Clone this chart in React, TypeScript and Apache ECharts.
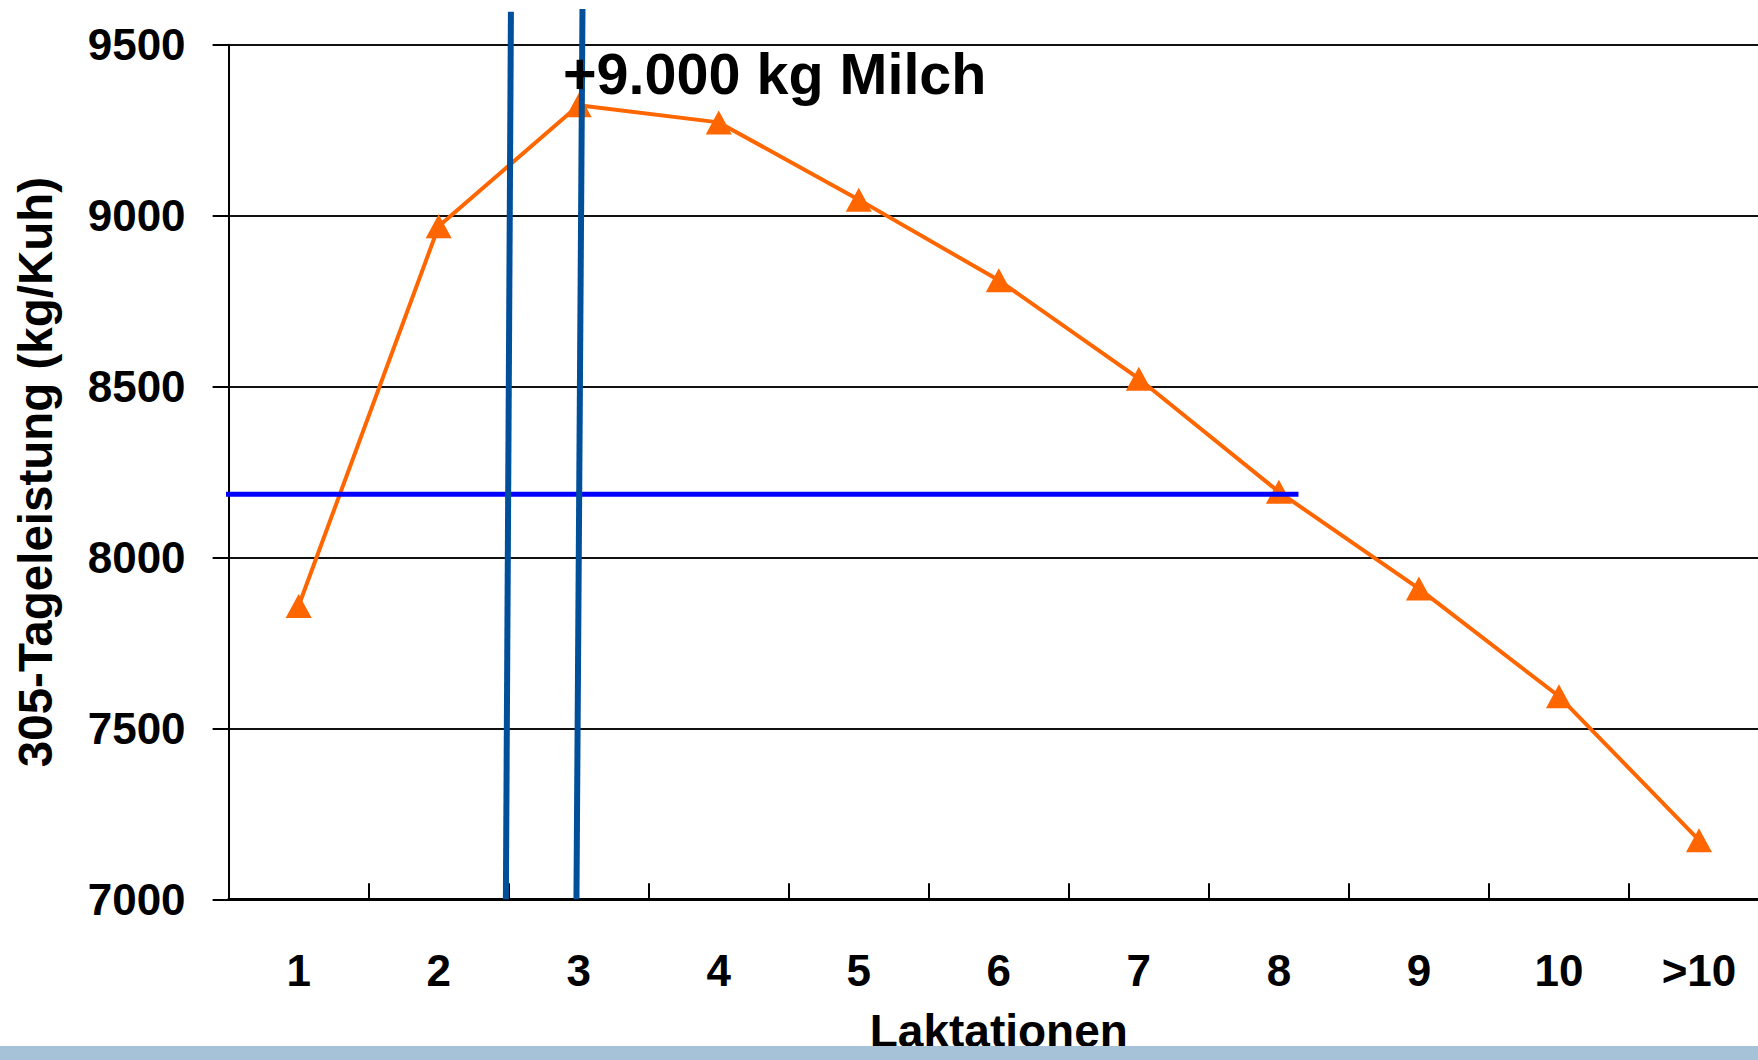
import React, { useEffect, useRef } from "react";
import * as echarts from "echarts";

// ---- data ----
const categories = ["1", "2", "3", "4", "5", "6", "7", "8", "9", "10", ">10"];
const milkYield = [7858, 8969, 9323, 9273, 9047, 8811, 8523, 8192, 7909, 7594, 7173];
const yMin = 7000;
const yMax = 9500;
const yInterval = 500;
// reference lines in axis units (x = category index, 0 = "1")
const herdLine = [
  [-0.54, 8185],
  [7.14, 8185],
];
const verticalLineA = [
  [1.516, 9597],
  [1.48, 7000],
];
const verticalLineB = [
  [2.027, 9605],
  [1.984, 7000],
];
const annotationText = "+9.000 kg Milch";
const xAxisName = "Laktationen";
const yAxisName = "305-Tageleistung (kg/Kuh)";

const FONT = "'Liberation Sans', Arial, sans-serif";

export default function App() {
  const ref = useRef<HTMLDivElement>(null);

  useEffect(() => {
    document.body.style.margin = "0";
    if (!ref.current) return;
    const chart = echarts.init(ref.current, null, { renderer: "svg" });
    const labelStyle = {
      fontSize: 44,
      fontWeight: "bold" as const,
      fontFamily: FONT,
      color: "#000",
    };
    chart.setOption({
      animation: false,
      backgroundColor: "#fff",
      grid: {
        left: 228.6,
        right: -11,
        top: 44.8,
        bottom: 160.7,
        containLabel: false,
        outerBoundsMode: "none",
      },
      xAxis: [
        {
          type: "category",
          data: categories,
          boundaryGap: true,
          axisLine: { show: true, onZero: false, lineStyle: { color: "#000", width: 3 } },
          axisTick: {
            show: true,
            inside: true,
            length: 16,
            interval: 0,
            lineStyle: { color: "#000", width: 2 },
          },
          axisLabel: { ...labelStyle, interval: 0, margin: 49 },
          splitLine: { show: false },
          name: xAxisName,
          nameLocation: "middle",
          nameGap: 109,
          nameTextStyle: { fontSize: 46, fontWeight: "bold", fontFamily: FONT, color: "#000" },
        },
        {
          type: "value",
          min: -0.5,
          max: 10.5,
          show: false,
          position: "bottom",
        },
      ],
      yAxis: {
        type: "value",
        min: yMin,
        max: yMax,
        interval: yInterval,
        axisLine: { show: true, onZero: false, lineStyle: { color: "#000", width: 2 } },
        axisTick: { show: true, length: 16, lineStyle: { color: "#000", width: 2 } },
        axisLabel: { ...labelStyle, margin: 43, formatter: (v: number) => String(v) },
        splitLine: { show: true, lineStyle: { color: "#111", width: 2 } },
        name: yAxisName,
        nameLocation: "middle",
        nameGap: 169,
        nameTextStyle: { fontSize: 47.5, fontWeight: "bold", fontFamily: FONT, color: "#000" },
      },
      series: [
        {
          type: "line",
          xAxisIndex: 0,
          data: milkYield,
          symbol: "triangle",
          symbolSize: [26, 24],
          itemStyle: { color: "#FF6600" },
          lineStyle: { color: "#FF6600", width: 4 },
          z: 2,
        },
        {
          type: "line",
          xAxisIndex: 1,
          data: herdLine,
          symbol: "none",
          clip: false,
          lineStyle: { color: "#0000FF", width: 5 },
          z: 3,
        },
        {
          type: "line",
          xAxisIndex: 1,
          data: verticalLineA,
          symbol: "none",
          clip: false,
          lineStyle: { color: "#004F9A", width: 6 },
          z: 3,
        },
        {
          type: "line",
          xAxisIndex: 1,
          data: verticalLineB,
          symbol: "none",
          clip: false,
          lineStyle: { color: "#004F9A", width: 6 },
          z: 3,
        },
      ],
      graphic: [
        {
          type: "text",
          x: 563,
          y: 74,
          z: 100,
          style: {
            text: annotationText,
            fontSize: 57.5,
            fontWeight: "bold",
            fontFamily: FONT,
            fill: "#000",
            align: "left",
            verticalAlign: "middle",
          },
        },
        {
          type: "rect",
          z: 100,
          shape: { x: 0, y: 1046, width: 1758, height: 14 },
          style: { fill: "#A5C2D8" },
        },
      ],
    });
    return () => chart.dispose();
  }, []);

  return <div ref={ref} style={{ width: 1758, height: 1060 }} />;
}
